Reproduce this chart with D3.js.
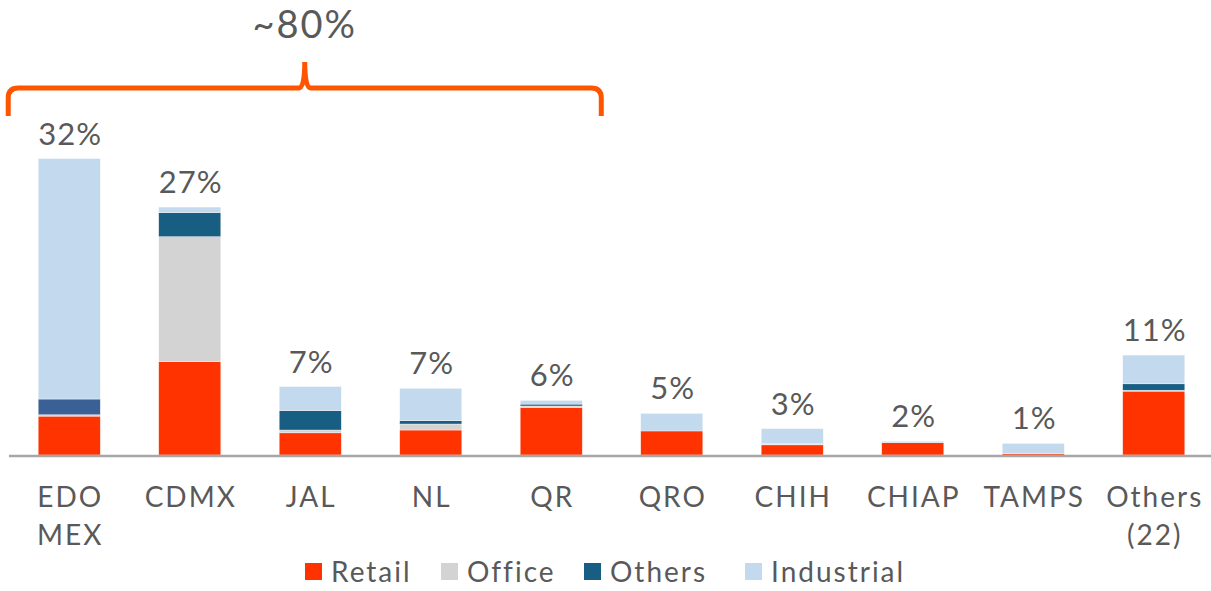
<!DOCTYPE html>
<html>
<head>
<meta charset="utf-8">
<script src="https://cdn.jsdelivr.net/npm/d3@7"></script>
<style>
  body { margin: 0; background: #fff; }
  svg text { font-family: Lato, "Noto Sans", sans-serif; fill: #595959; letter-spacing: 2px; }
</style>
</head>
<body>
<svg width="1211" height="591"></svg>
<script>
// share of stock by state, %
var categories = ["EDO\nMEX", "CDMX", "JAL", "NL", "QR", "QRO", "CHIH", "CHIAP", "TAMPS", "Others\n(22)"];
var retail     = [4.2, 10.1, 2.4, 2.7, 5.15, 2.6, 1.1, 1.33, 0.15, 6.9];
var office     = [0.15, 13.5, 0.3, 0.65, 0.15, 0, 0.1, 0, 0, 0.1];
var others     = [1.7, 2.6, 2.1, 0.36, 0.2, 0, 0.05, 0, 0, 0.7];
var industrial = [26, 0.6, 2.6, 3.5, 0.4, 1.9, 1.6, 0.15, 1.1, 3.1];
var totalLabels = ["32%", "27%", "7%", "7%", "6%", "5%", "3%", "2%", "1%", "11%"];
var seriesNames = ["Retail", "Office", "Others", "Industrial"];
var colors = ["#FF3300", "#D3D3D3", "#175E82", "#C3D9EE"];

var rows = categories.map(function (c, i) {
  return { cat: c, Retail: retail[i], Office: office[i], Others: others[i], Industrial: industrial[i] };
});

var svg = d3.select("svg");
var x = d3.scaleBand().domain(categories).range([9, 1214]).paddingInner(0.485).paddingOuter(0.2425);
var y = d3.scaleLinear().domain([0, 32]).range([455, 159]);
var color = d3.scaleOrdinal().domain(seriesNames).range(colors);

var stack = d3.stack().keys(seriesNames)(rows);

svg.append("g").selectAll("g")
  .data(stack)
  .enter().append("g")
  .attr("fill", function (d) { return color(d.key); })
  .selectAll("rect")
  .data(function (d) { return d.map(function (v) { v.key = d.key; return v; }); })
  .enter().append("rect")
  .attr("x", function (d) { return x(d.data.cat); })
  .attr("width", x.bandwidth())
  .attr("y", function (d) { return y(d[1]); })
  .attr("height", function (d) { return y(d[0]) - y(d[1]); })
  .attr("fill", function (d, i) { return (d.key == "Others" && i == 0) ? "#3A6096" : null; })
  .attr("stroke", "#fff")
  .attr("stroke-width", 0.6)
  .attr("stroke-opacity", 0.6);

// baseline
svg.append("line")
  .attr("x1", 9).attr("x2", 1211)
  .attr("y1", y(0) + 1).attr("y2", y(0) + 1)
  .attr("stroke", "#A6A6A6").attr("stroke-width", 2.5);

// totals
svg.append("g").selectAll("text")
  .data(rows)
  .enter().append("text")
  .attr("x", function (d) { return x(d.cat) + x.bandwidth() / 2 + 1; })
  .attr("y", function (d, i) { return y(d.Retail + d.Office + d.Others + d.Industrial) - 14; })
  .attr("text-anchor", "middle")
  .attr("font-size", 31)
  .style("letter-spacing", "1px")
  .text(function (d, i) { return totalLabels[i]; });

// category labels
var xlab = svg.append("g").selectAll("text")
  .data(categories)
  .enter().append("text")
  .attr("text-anchor", "middle")
  .attr("font-size", 28)
  .attr("x", function (d) { return x(d) + x.bandwidth() / 2 + 1; })
  .attr("y", 507);
xlab.selectAll("tspan")
  .data(function (d) { return d.split("\n"); })
  .enter().append("tspan")
  .attr("x", function () { return d3.select(this.parentNode).attr("x"); })
  .attr("dy", function (d, i) { return i ? 38 : 0; })
  .text(function (d) { return d; });

// bracket over the first five states
var bx0 = x(categories[0]) - 30, bx1 = x(categories[4]) + x.bandwidth() + 19;
var bm = (bx0 + bx1) / 2, by = 88;
svg.append("path")
  .attr("d", "M" + bx0 + ",116 L" + bx0 + "," + (by + 10) + " Q" + bx0 + "," + by + " " + (bx0 + 10) + "," + by +
    " L" + (bm - 6) + "," + by + " Q" + bm + "," + by + " " + bm + ",62" +
    " Q" + bm + "," + by + " " + (bm + 6) + "," + by +
    " L" + (bx1 - 10) + "," + by + " Q" + bx1 + "," + by + " " + bx1 + "," + (by + 10) + " L" + bx1 + ",116")
  .attr("fill", "none")
  .attr("stroke", "#FF5500")
  .attr("stroke-width", 5);

svg.append("text")
  .attr("x", bm).attr("y", 38)
  .attr("text-anchor", "middle")
  .attr("font-size", 38)
  .style("letter-spacing", "2px")
  .text("~80%");

// legend
var legendX = [305, 441, 584, 745];
var leg = svg.append("g").selectAll("g")
  .data(seriesNames)
  .enter().append("g")
  .attr("transform", function (d, i) { return "translate(" + legendX[i] + ",563)"; });
leg.append("rect").attr("width", 17).attr("height", 17).attr("fill", function (d) { return color(d); });
leg.append("text").attr("x", 26).attr("y", 19).attr("font-size", 28).text(function (d) { return d; });
</script>
</body>
</html>
